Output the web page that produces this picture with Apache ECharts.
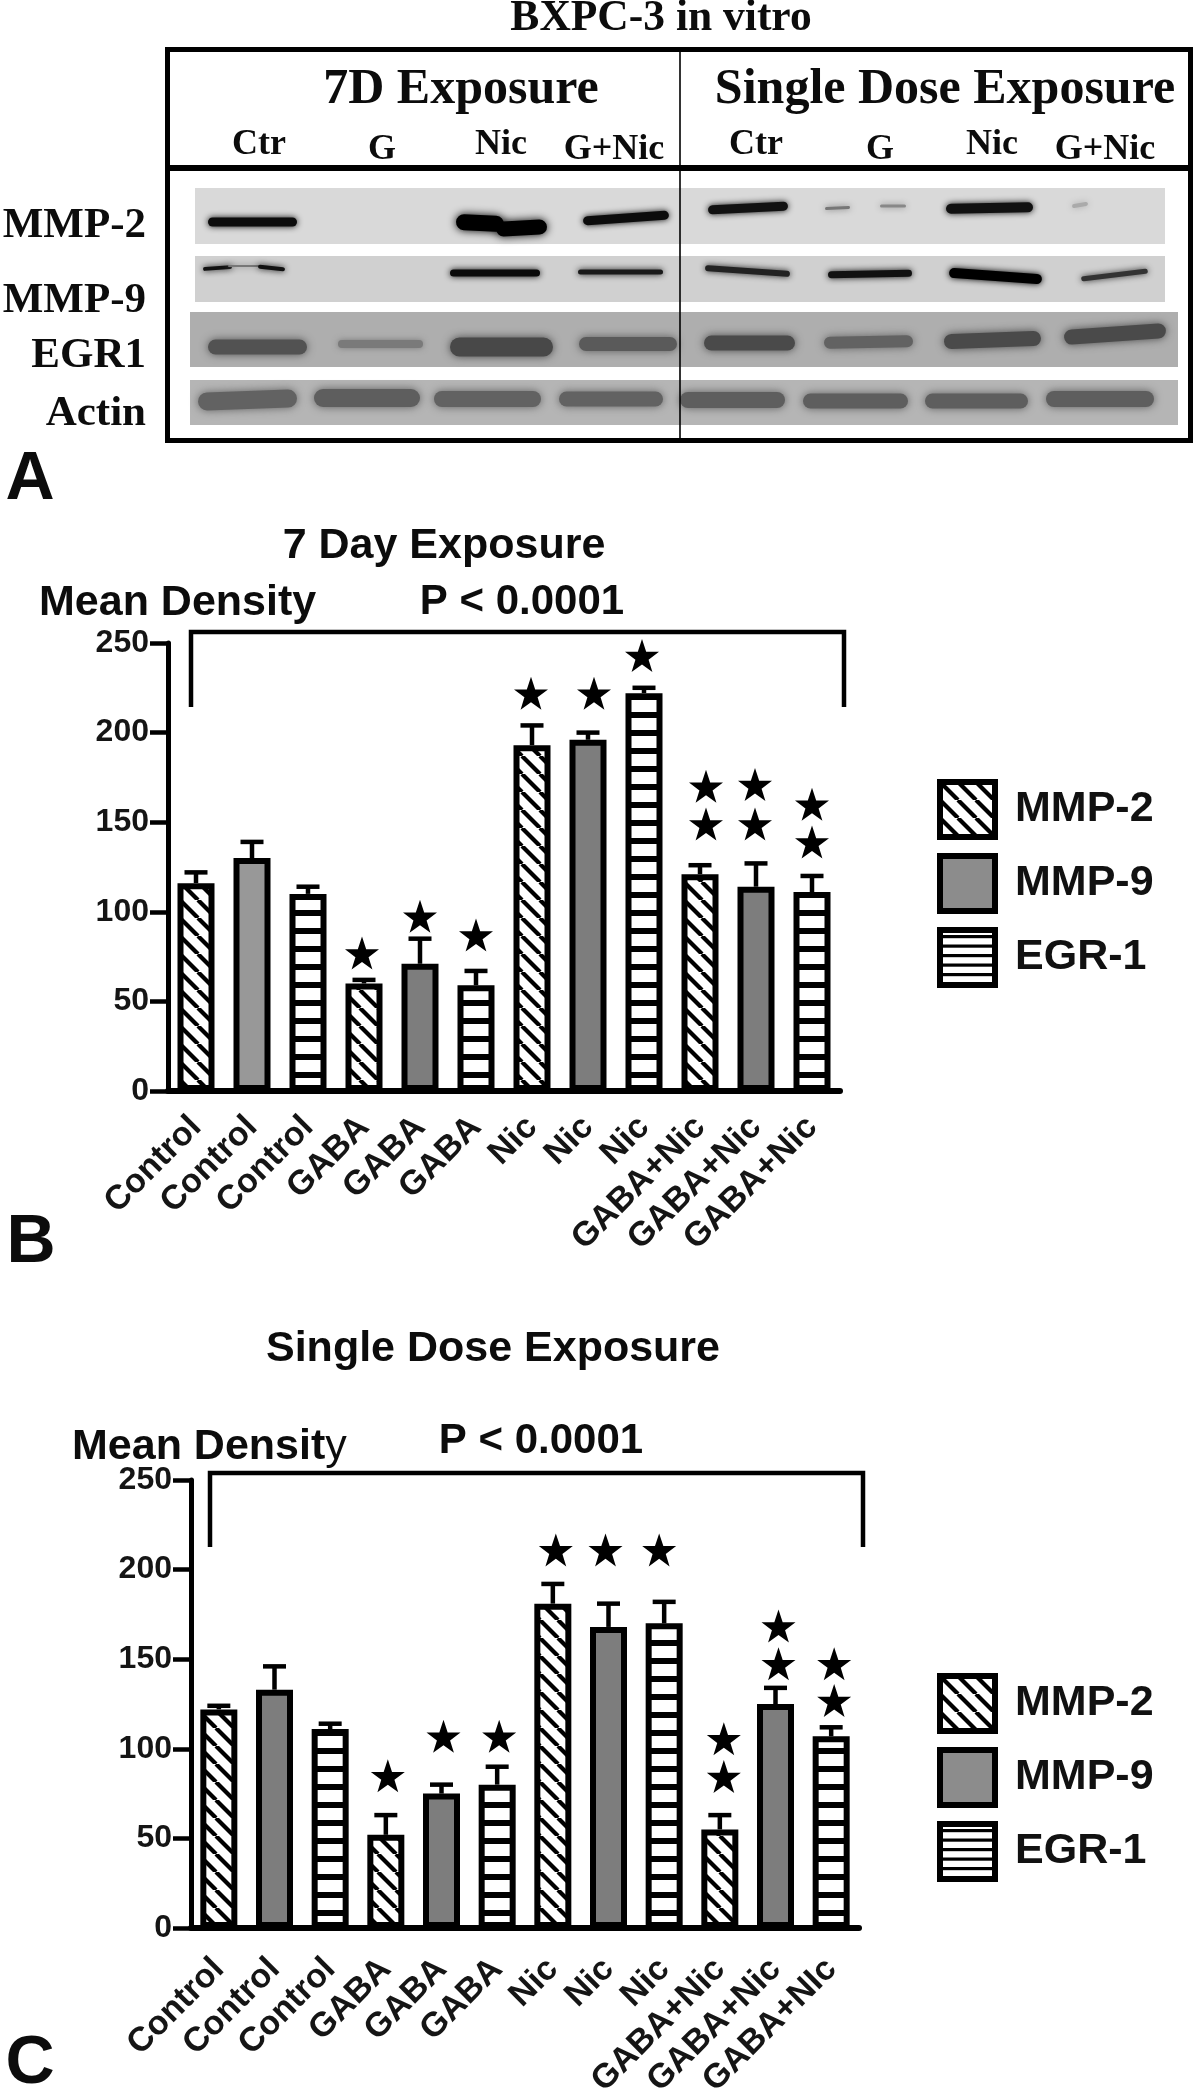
<!DOCTYPE html>
<html><head><meta charset="utf-8">
<script src="https://cdn.jsdelivr.net/npm/echarts@6/dist/echarts.min.js"></script>
<style>html,body{margin:0;padding:0;background:#fff}#c{width:1200px;height:2089px;filter:blur(0.55px)}</style>
</head><body><div id="c"></div>
<script>
const categories = ['Control','Control','Control','GABA','GABA','GABA','Nic','Nic','Nic','GABA+Nic','GABA+Nic','GABA+NIc'];
const categories7 = ['Control','Control','Control','GABA','GABA','GABA','Nic','Nic','Nic','GABA+Nic','GABA+Nic','GABA+Nic'];
const yTicksMax = 250, yTicksStep = 50;
const seriesNames = ['MMP-2','MMP-9','EGR-1'];

const day7_MMP2 = [116,null,null,60,null,null,193,null,null,121,null,null];
const day7_MMP9 = [null,130,null,null,71,null,null,196,null,null,114,null];
const day7_EGR1 = [null,null,110,null,null,59,null,null,222,null,null,111];
const day7_upper = [122,139,114,62,85,67,204,200,225,126,127,120];
const day7_stars = [[3,77,-2],[4,97.5,0],[5,87,0],[6,222,-1],[7,222,6],[8,243,-2],[9,170,6],[9,149,6],[10,171,-1],[10,149,-1],[11,160,0],[11,139,0]];

const single_MMP2 = [122,null,null,52,null,null,181,null,null,55,null,null];
const single_MMP9 = [null,133,null,null,75,null,null,168,null,null,125,null];
const single_EGR1 = [null,null,111,null,null,80,null,null,170,null,null,107];
const single_upper = [124,146,114,63,80,90,192,181,182,63,134,112];
const single_stars = [[3,85,2],[4,107,2],[5,107,2],[6,211,3],[7,211,-3],[8,211,-5],[9,105.6,4],[9,84.5,4],[10,168.5,3],[10,147.5,3],[11,147.5,3],[11,127,3]];

// western blot panel: [x from, x to, y from, y to, grey]
const blotStrips = [
  [195,1165,188,244,'#d9d9d9'],
  [195,1165,256,302,'#d0d0d0'],
  [190,1178,312,367,'#aeaeae'],
  [190,1178,380,425,'#b5b5b5']
];
// blot bands: [x from, x to, y centre, thickness, grey, tilt degrees]
const blotBands = [
  [208,297,222,9,'#0c0c0c',0],[456,504,223,16,'#000',3],[496,547,228,15,'#000',-3],[583,669,218,9,'#0c0c0c',-4],
  [708,788,208,9,'#111',-3],[825,850,208,3,'#777',-3],[880,906,206,3,'#888',0],[946,1033,208,10,'#111',-1],[1072,1088,205,4,'#aaa',-10],
  [203,232,268,4,'#111',-4],[228,262,266,2,'#777',0],[258,285,268,4,'#111',6],[450,540,273,7,'#0a0a0a',0],[578,663,272,5,'#1a1a1a',0],[705,790,271,6,'#222',4],
  [828,912,274,7,'#111',-1],[949,1042,276,10,'#000',4],[1081,1148,275,5,'#333',-7],
  [208,307,347,15,'#525252',0],[338,423,344,8,'#7a7a7a',0],[450,553,347,19,'#484848',0],[579,677,344,14,'#5a5a5a',0],
  [704,795,343,15,'#4a4a4a',0],[824,913,342,12,'#626262',-1],[944,1041,340,15,'#4a4a4a',-2],[1064,1166,334,15,'#4a4a4a',-4],
  [198,297,400,18,'#626262',-2],[314,420,398,18,'#5e5e5e',0],[434,541,399,16,'#626262',0],[559,663,399,15,'#626262',0],
  [680,785,400,16,'#5e5e5e',0],[803,908,401,15,'#5e5e5e',0],[925,1028,401,15,'#5e5e5e',0],[1046,1154,399,16,'#5e5e5e',0]
];

function tile(size,draw){const c=document.createElement('canvas');c.width=c.height=size;draw(c.getContext('2d'));return c;}
const diagTile = tile(18,g=>{g.fillStyle='#fff';g.fillRect(0,0,18,18);g.strokeStyle='#000';g.lineWidth=4.2;
  [[-18,0],[0,0],[18,0]].forEach(o=>{g.beginPath();g.moveTo(o[0],0);g.lineTo(o[0]+18,18);g.stroke();});});
const stripeTile = phase => tile(18,g=>{g.fillStyle='#fff';g.fillRect(0,0,18,18);g.fillStyle='#000';g.fillRect(0,phase,18,6);g.fillRect(0,phase-18,18,6);});
const legendStripeTile = tile(19,g=>{g.fillStyle='#fff';g.fillRect(0,0,19,19);g.fillStyle='#000';[5,14.5].forEach(y=>g.fillRect(0,y,19,3.2));});
const fillsFor = phase => [{image:diagTile,repeat:'repeat'},'#7d7d7d',{image:stripeTile(phase),repeat:'repeat'}];

const STAR='path://M50 0 L61.8 35.5 L98 35.5 L68.6 57.5 L79.4 92 L50 71 L20.6 92 L31.4 57.5 L2 35.5 L38.2 35.5 Z';
const sans='"Liberation Sans",Arial,sans-serif', serif='"Liberation Serif","Times New Roman",serif';

function errRender(params,api){
  const x=api.value(0), hi=api.coord([x,api.value(1)]), lo=api.coord([x,api.value(2)]);
  const st={stroke:'#000',lineWidth:4.5,fill:null};
  return {type:'group',children:[
    {type:'line',shape:{x1:hi[0],y1:hi[1],x2:lo[0],y2:lo[1]},style:st},
    {type:'line',shape:{x1:hi[0]-11.5,y1:hi[1],x2:hi[0]+11.5,y2:hi[1]},style:st}
  ]};
}
function panelSeries(idx,vals,upper,stars,phase){
  const fills=fillsFor(phase);
  const out=vals.map((v,i)=>({
    name:seriesNames[i],type:'bar',xAxisIndex:idx,yAxisIndex:idx,data:idx===0&&i===1
      ?v.map((d,k)=>k===1?{value:d,itemStyle:{color:'#989898'}}:d):v,
    barWidth:37,barGap:'-100%',animation:false,z:2,
    itemStyle:{color:fills[i],borderColor:'#000',borderWidth:6}
  }));
  const merged=vals[0].map((_,k)=>vals[0][k]??vals[1][k]??vals[2][k]);
  out.push({type:'custom',xAxisIndex:idx,yAxisIndex:idx,z:1,animation:false,silent:true,
    data:upper.map((u,k)=>[k,u,merged[k]]),encode:{x:0,y:1},renderItem:errRender});
  out.push({type:'scatter',xAxisIndex:idx,yAxisIndex:idx,z:3,animation:false,silent:true,
    symbol:STAR,symbolSize:[34,33],itemStyle:{color:'#000',opacity:1},
    data:stars.map(s=>({value:[s[0],s[1]],symbolOffset:[s[2],0]}))});
  return out;
}
function xAx(gridIndex,data,margin){return {type:'category',gridIndex,data,boundaryGap:true,z:5,
  axisLine:{lineStyle:{color:'#000',width:6}},axisTick:{alignWithLabel:true,length:18,lineStyle:{color:'#000',width:5.5}},
  axisLabel:{interval:0,rotate:45,margin,fontFamily:sans,fontWeight:'bold',fontSize:34,color:'#151515'}};}
function yAx(gridIndex){return {type:'value',gridIndex,min:0,max:yTicksMax,interval:yTicksStep,z:5,splitLine:{show:false},
  axisLine:{show:true,lineStyle:{color:'#000',width:5}},axisTick:{show:true,length:18,lineStyle:{color:'#000',width:4.5}},
  axisLabel:{margin:19,fontFamily:sans,fontWeight:'bold',fontSize:32,color:'#151515'}};}

const T=(text,x,y,font,align)=>({type:'text',z:20,silent:true,style:{text,x,y,font,textAlign:align||'center',textVerticalAlign:'middle',fill:'#0c0c0c'}});
const bSans=s=>`bold ${s}px ${sans}`, bSerif=s=>`bold ${s}px ${serif}`;
const L=(x1,y1,x2,y2,w)=>({type:'line',z:15,silent:true,shape:{x1,y1,x2,y2},style:{stroke:'#000',lineWidth:w}});
const R=(x,y,w,h)=>({type:'rect',z:15,silent:true,shape:{x,y,width:w,height:h},style:{fill:'#000'}});
const bracket=(x1,x2,yt,yb)=>({type:'polyline',z:15,silent:true,shape:{points:[[x1,yb],[x1,yt],[x2,yt],[x2,yb]]},style:{stroke:'#000',lineWidth:4.5,fill:null}});

const graphic=[
  T('BXPC-3 in vitro',661,19,bSerif(43.5)),
  R(165,47,1027,5),R(165,165,1027,6),R(165,438,1027,5),R(165,47,5,396),R(1188,47,5,396),
  L(680,49,680,441,1.6),
  T('7D Exposure',461,90,bSerif(50)),T('Single Dose Exposure',945,90,bSerif(50)),
  T('Ctr',259,145,bSerif(36)),T('G',382,150,bSerif(36)),T('Nic',501,145,bSerif(36)),T('G+Nic',614,150,bSerif(36)),
  T('Ctr',756,145,bSerif(36)),T('G',880,150,bSerif(36)),T('Nic',992,145,bSerif(36)),T('G+Nic',1105,150,bSerif(36)),
  T('MMP-2',146,226,bSerif(43),'right'),T('MMP-9',146,301,bSerif(43),'right'),T('EGR1',146,356,bSerif(43),'right'),T('Actin',146,414,bSerif(43),'right'),
  T('A',30,480,bSans(68)),
  T('7 Day Exposure',444,546,bSans(43)),T('Mean Density',39,603,bSans(43),'left'),T('P < 0.0001',522,602,bSans(42)),
  bracket(191,844,632,707),
  T('B',31,1243,bSans(68)),
  T('Single Dose Exposure',493,1349,bSans(43)),
  {type:'text',z:20,silent:true,style:{text:'{a|Mean Densit}{b|y}',x:72,y:1447,textVerticalAlign:'middle',textAlign:'left',fill:'#0c0c0c',
    rich:{a:{font:bSans(43),fill:'#0c0c0c'},b:{font:`43px ${sans}`,fill:'#0c0c0c'}}}},
  T('P < 0.0001',541,1441,bSans(42)),
  bracket(210,863,1473,1547),
  T('C',30,2064,bSans(68))
];

const legendBase={orient:'vertical',icon:'rect',padding:0,itemWidth:55,itemHeight:55,itemGap:13,selectedMode:false,
  itemStyle:{borderColor:'#000',borderWidth:6},
  textStyle:{fontFamily:sans,fontWeight:'bold',fontSize:43,color:'#111',padding:[0,0,12,15]},
  data:[{name:'MMP-2'},{name:'MMP-9',itemStyle:{color:'#8c8c8c'}},{name:'EGR-1',itemStyle:{color:{image:legendStripeTile,repeat:'repeat'}}}]};

const option={
  animation:false,backgroundColor:'#fff',
  grid:[
    {left:168,top:643,width:672,height:448,outerBoundsMode:'none'},
    {left:191,top:1480,width:668,height:448,outerBoundsMode:'none'},
    {left:0,top:0,width:1200,height:520,outerBoundsMode:'none'}
  ],
  xAxis:[xAx(0,categories7,31),xAx(1,categories,36),{type:'value',gridIndex:2,min:0,max:1200,show:false}],
  yAxis:[yAx(0),yAx(1),{type:'value',gridIndex:2,min:0,max:520,inverse:true,show:false}],
  legend:[Object.assign({},legendBase,{left:937,top:779}),Object.assign({},legendBase,{left:937,top:1673})],
  graphic,
  series:[
    {type:'custom',xAxisIndex:2,yAxisIndex:2,z:0,silent:true,animation:false,data:blotStrips,encode:{x:0,y:2},
      renderItem(p,api){const a=api.coord([api.value(0),api.value(2)]),b=api.coord([api.value(1),api.value(3)]);
        return {type:'rect',shape:{x:a[0],y:a[1],width:b[0]-a[0],height:b[1]-a[1]},style:{fill:blotStrips[p.dataIndex][4]}};}},
    {type:'custom',xAxisIndex:2,yAxisIndex:2,z:1,silent:true,animation:false,data:blotBands,encode:{x:0,y:2},
      renderItem(p,api){const a=api.coord([api.value(0),api.value(2)]),b=api.coord([api.value(1),api.value(2)]);
        const row=blotBands[p.dataIndex],h=row[3],col=row[4],cx=(a[0]+b[0])/2;
        return {type:'rect',originX:cx,originY:a[1],rotation:-row[5]*Math.PI/180,
          shape:{x:a[0],y:a[1]-h/2,width:b[0]-a[0],height:h,r:h/2},
          style:{fill:col,shadowColor:col,shadowBlur:h>10?9:6}};}},
    ...panelSeries(0,[day7_MMP2,day7_MMP9,day7_EGR1],day7_upper,day7_stars,10),
    ...panelSeries(1,[single_MMP2,single_MMP9,single_EGR1],single_upper,single_stars,2)
  ]
};
echarts.init(document.getElementById('c'),null,{renderer:'canvas'}).setOption(option);
</script></body></html>
